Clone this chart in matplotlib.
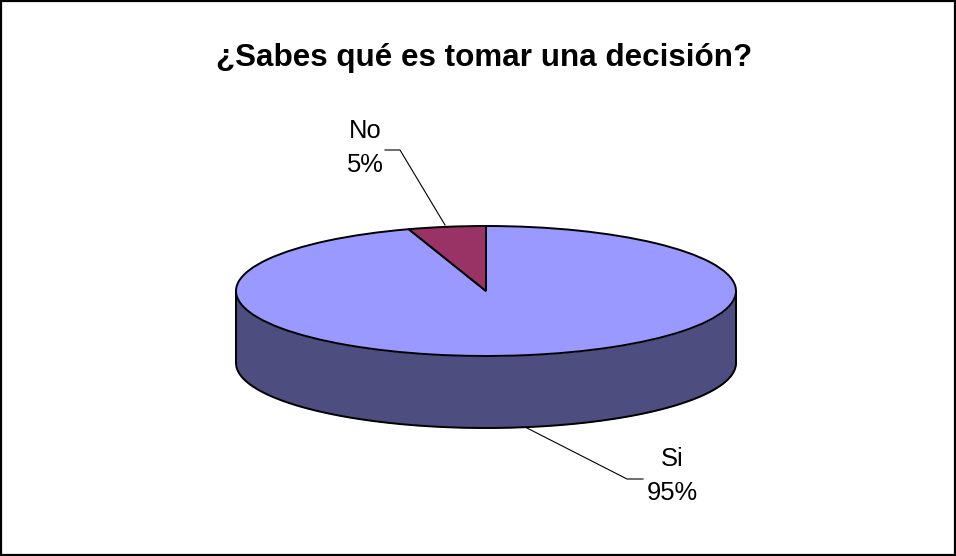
import numpy as np
import matplotlib
matplotlib.use("Agg")
import matplotlib.pyplot as plt
from matplotlib.patches import Rectangle

categories = ["Si", "No"]
values = [95, 5]
colors = ["#9999FF", "#993366"]
side_color = "#4D4D80"
title = "¿Sabes qué es tomar una decisión?"

W, H = 956, 556
plt.rcParams['font.family'] = ['Liberation Sans', 'DejaVu Sans']
fig = plt.figure(figsize=(W/100, H/100), dpi=100, facecolor="white")

# frame
bg = fig.add_axes([0, 0, 1, 1])
bg.set_xlim(0, W); bg.set_ylim(H, 0); bg.axis("off")
bg.add_patch(Rectangle((1, 1), W-2, H-2, fill=False, ec="black", lw=1.6))
bg.text(484, 58, title, ha="center", va="center", fontsize=22.6, fontweight="bold")

# pie axes: unit circle maps onto the ellipse
cx, cy, rx, ry, depth = 486, 291, 250, 65, 72
ax = fig.add_axes([(cx-rx)/W, 1-(cy+ry)/H, 2*rx/W, 2*ry/H])
ax.axis("off")
d = depth/ry
t = np.linspace(np.pi, 2*np.pi, 200)
ax.fill_between(np.cos(t), np.sin(t), np.sin(t)-d, color=side_color, lw=0, clip_on=False)
ax.plot(np.cos(t), np.sin(t)-d, color="black", lw=1.4, clip_on=False)
ax.plot([-1, -1], [0, -d], color="black", lw=1.4, clip_on=False)
ax.plot([1, 1], [0, -d], color="black", lw=1.4, clip_on=False)
wedges, _ = ax.pie(values, colors=colors, startangle=90, counterclock=False,
                   wedgeprops=dict(edgecolor="black", linewidth=1.4, clip_on=False))
ax.set_aspect("auto")
ax.set_xlim(-1, 1); ax.set_ylim(-1, 1)

# labels with leader lines
bg.text(365, 148, f"{categories[1]}\n{values[1]}%", ha="center", va="center", fontsize=18.4, linespacing=1.55)
bg.plot([385, 400, 445], [150, 150, 225], color="black", lw=0.8)
bg.text(672, 476, f"{categories[0]}\n{values[0]}%", ha="center", va="center", fontsize=18.4, linespacing=1.55)
bg.plot([525, 627, 643], [427, 479, 479], color="black", lw=0.8)
bg.set_zorder(2); bg.patch.set_alpha(0)

fig.savefig("out.png", dpi=100)
